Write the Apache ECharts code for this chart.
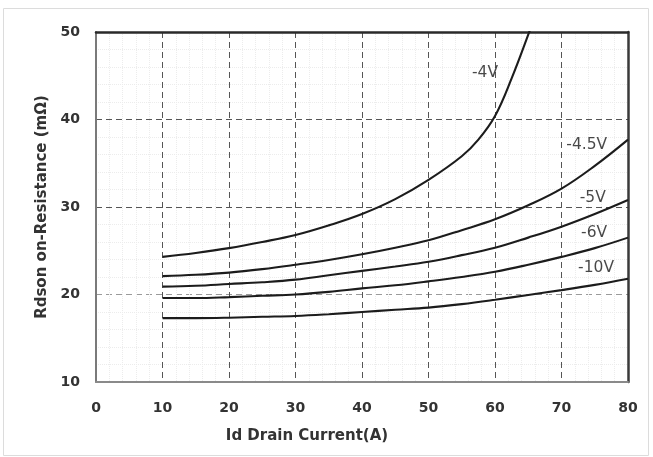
<!DOCTYPE html>
<html>
<head>
<meta charset="utf-8">
<script src="https://cdn.jsdelivr.net/npm/echarts@6/dist/echarts.min.js"></script>
<style>
  html, body { margin: 0; padding: 0; background: #ffffff; }
  #chart { width: 653px; height: 457px; }
</style>
</head>
<body>
<div id="chart"></div>
<script>
// Drain current (A) sample points shared by the curves
const current = [10, 15, 20, 25, 30, 35, 40, 45, 50, 55, 60, 65, 70, 75, 80];

// Rdson (mΩ) for each gate voltage
const rds10V  = [17.3, 17.3, 17.35, 17.45, 17.55, 17.75, 18.0, 18.25, 18.5, 18.9, 19.4, 19.95, 20.5, 21.1, 21.8];
const rds6V   = [19.6, 19.6, 19.7, 19.85, 20.0, 20.3, 20.7, 21.05, 21.5, 22.0, 22.6, 23.4, 24.3, 25.3, 26.5];
const rds5V   = [20.9, 21.0, 21.2, 21.4, 21.7, 22.2, 22.7, 23.2, 23.75, 24.5, 25.35, 26.5, 27.75, 29.2, 30.8];
const rds45V  = [22.1, 22.25, 22.5, 22.9, 23.4, 23.95, 24.6, 25.35, 26.2, 27.35, 28.6, 30.2, 32.1, 34.7, 37.7];

// -4V curve runs off the top of the chart just past 65 A
const current4V = [10, 15, 20, 25, 30, 35, 40, 45, 50, 55, 57.5, 60, 62.5, 65, 67.5];
const rds4V     = [24.3, 24.75, 25.3, 26.0, 26.8, 27.9, 29.2, 30.9, 33.1, 35.8, 37.7, 40.4, 44.7, 49.7, 55.0];

// Curve names and where their tags sit (data coordinates)
const curveNames = ['-4V', '-4.5V', '-5V', '-6V', '-10V'];
const tagAt = [[58.5, 45.3], [73.8, 37.1], [74.7, 31.0], [74.9, 27.0], [75.2, 23.0]];

// Axis ranges and tick step
const xRange = [0, 80];
const yRange = [10, 50];
const step = 10;

const pair = (xs, ys) => xs.map((x, i) => [x, ys[i]]);

const curveStyle = { color: '#1c1c1c', width: 2.1 };
function curve(name, xs, ys) {
  return {
    name: name,
    type: 'line',
    data: pair(xs, ys),
    smooth: 0.4,
    showSymbol: false,
    symbol: 'none',
    lineStyle: curveStyle,
    itemStyle: { color: '#1c1c1c' },
    clip: true,
    z: 5
  };
}

const boldFont = 'DejaVu Sans, Verdana, sans-serif';
const tickFont = { color: '#333', fontSize: 14, fontWeight: 'bold', fontFamily: boldFont };
const titleFont = { color: '#333', fontSize: 15, fontWeight: 'bold', fontFamily: boldFont };
const dash = { type: [6, 4], width: 1 };

const chart = echarts.init(document.getElementById('chart'), null, { renderer: 'canvas' });

chart.setOption({
  animation: false,
  backgroundColor: '#ffffff',
  grid: { left: 96, right: 25, top: 32, bottom: 75, containLabel: false },
  graphic: [{
    type: 'rect',
    shape: { x: 3.5, y: 8.5, width: 645, height: 447 },
    style: { fill: 'none', stroke: '#dcdcdc', lineWidth: 1 },
    silent: true,
    z: -10
  }],
  xAxis: [{
    type: 'value',
    min: xRange[0], max: xRange[1], interval: step,
    name: 'Id Drain Current(A)',
    nameLocation: 'middle',
    nameGap: 47,
    nameTextStyle: Object.assign({}, titleFont, { padding: [0, 110, 0, 0] }),
    axisLine: { show: true, lineStyle: { color: '#8a8a8a', width: 2 } },
    axisTick: { show: false },
    axisLabel: Object.assign({ margin: 19 }, tickFont),
    splitLine: { show: true, lineStyle: Object.assign({ color: '#555' }, dash) },
    minorSplitLine: { show: true, lineStyle: { color: '#ececec', type: 'dotted', width: 1 } },
    minorTick: { show: false, splitNumber: 5 }
  }, {
    type: 'value',
    position: 'top',
    min: xRange[0], max: xRange[1], interval: step,
    axisLine: { show: true, onZero: false, lineStyle: { color: '#2a2a2a', width: 2.5 } },
    axisTick: { show: false },
    axisLabel: { show: false },
    splitLine: { show: false }
  }],
  yAxis: [{
    type: 'value',
    min: yRange[0], max: yRange[1], interval: step,
    name: 'Rdson on-Resistance (mΩ)',
    nameLocation: 'middle',
    nameGap: 45,
    nameRotate: 90,
    nameTextStyle: titleFont,
    axisLine: { show: true, lineStyle: { color: '#7a7a7a', width: 2 } },
    axisTick: { show: false },
    axisLabel: Object.assign({ margin: 16 }, tickFont),
    splitLine: { show: true, lineStyle: Object.assign({ color: ['#555', '#9a9a9a', '#555', '#555', '#555'] }, dash) },
    minorSplitLine: { show: true, lineStyle: { color: '#ececec', type: 'dotted', width: 1 } },
    minorTick: { show: false, splitNumber: 5 }
  }, {
    type: 'value',
    position: 'right',
    min: yRange[0], max: yRange[1], interval: step,
    axisLine: { show: true, onZero: false, lineStyle: { color: '#3a3a3a', width: 2.5 } },
    axisTick: { show: false },
    axisLabel: { show: false },
    splitLine: { show: false }
  }],
  series: [
    curve('-4V', current4V, rds4V),
    curve('-4.5V', current, rds45V),
    curve('-5V', current, rds5V),
    curve('-6V', current, rds6V),
    curve('-10V', current, rds10V),
    {
      name: 'tags',
      type: 'scatter',
      symbolSize: 0,
      data: tagAt.map((p, i) => ({ value: p, name: curveNames[i] })),
      label: {
        show: true,
        position: 'inside',
        formatter: p => p.name,
        color: '#1a1a1a',
        fontSize: 15.5,
        fontFamily: 'DejaVu Sans, sans-serif'
      },
      z: 6
    }
  ]
});
</script>
</body>
</html>
